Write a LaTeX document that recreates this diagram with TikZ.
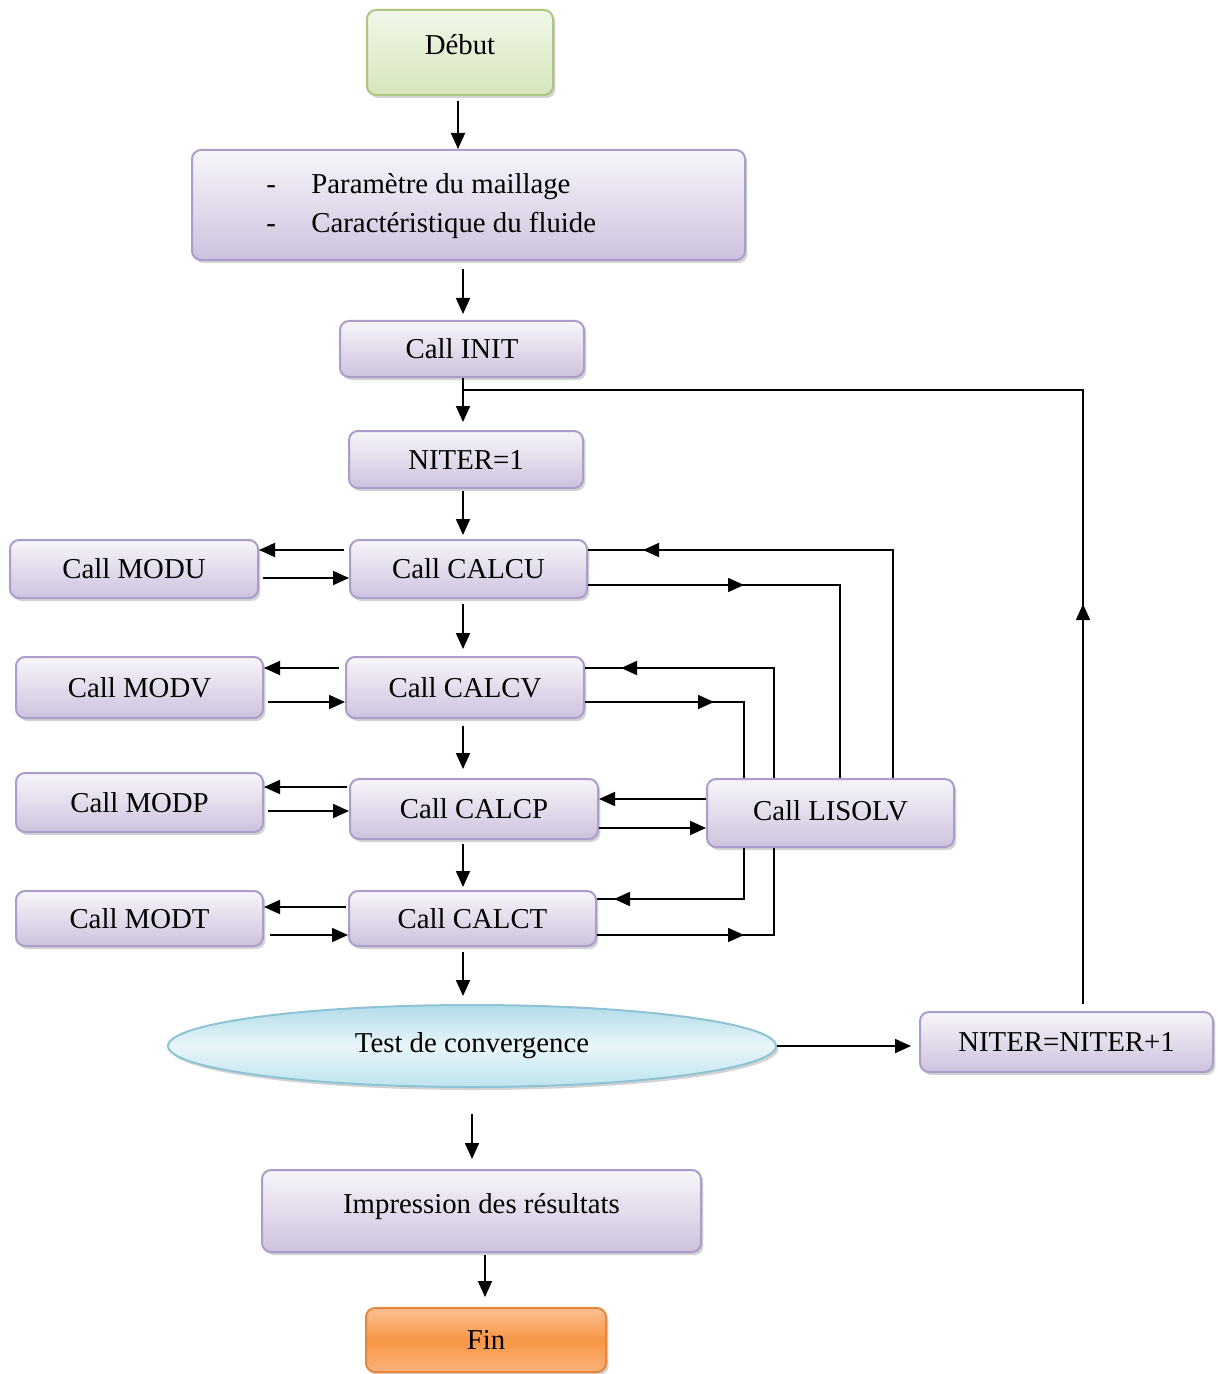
\documentclass[tikz,border=0pt]{standalone}
\usepackage{fontspec}
\setmainfont{Liberation Serif}
\usetikzlibrary{arrows.meta,shadows,decorations.markings,shapes.geometric}
\definecolor{lavDraw}{RGB}{172,156,202}
\definecolor{lavTop}{RGB}{247,245,250}
\definecolor{lavBot}{RGB}{206,194,222}
\definecolor{grnDraw}{RGB}{170,198,128}
\definecolor{grnTop}{RGB}{242,247,233}
\definecolor{grnBot}{RGB}{214,229,188}
\definecolor{bluDraw}{RGB}{140,196,212}
\definecolor{bluTop}{RGB}{178,220,232}
\definecolor{bluMid}{RGB}{232,245,249}
\definecolor{bluBot}{RGB}{190,228,238}
\definecolor{orgDraw}{RGB}{232,134,58}
\definecolor{orgTop}{RGB}{251,192,146}
\definecolor{orgMid}{RGB}{247,150,70}
\definecolor{orgBot}{RGB}{250,178,122}
\tikzset{
  x=0.5pt, y=-0.5pt,
  box/.style={draw=lavDraw, line width=1pt, rounded corners=4.5pt,
    top color=lavTop, bottom color=lavBot,
    drop shadow={shadow xshift=1.2pt, shadow yshift=-1.5pt, opacity=0.35},
    inner sep=0pt, font=\fontsize{14.4}{17}\selectfont},
  greenbox/.style={box, draw=grnDraw, top color=grnTop, bottom color=grnBot},
  orangebox/.style={box, draw=orgDraw, top color=orgTop, bottom color=orgBot, middle color=orgMid},
  ovalbox/.style={ellipse, draw=bluDraw, line width=1pt, top color=bluTop, bottom color=bluBot, middle color=bluMid,
    drop shadow={shadow xshift=1.2pt, shadow yshift=-1.5pt, opacity=0.35},
    inner sep=0pt, font=\fontsize{14.4}{17}\selectfont},
  arr/.style={-{Triangle[length=8pt,width=7pt]}, line width=0.9pt},
  conn/.style={line width=0.8pt},
  markarr/.style={postaction=decorate, decoration={markings,
    mark=at position #1 with {\arrow{Triangle[length=8pt,width=7pt]}}}},
}
\begin{document}
\begin{tikzpicture}
\useasboundingbox (0,0) rectangle (1218,1374);
\coordinate (spine) at (463,0);

% nodes
\node[greenbox, minimum width=93pt, minimum height=42.5pt] (debut) at (460,52.5) {\raisebox{8.5pt}{Début}};
\node[box, minimum width=276.5pt, minimum height=55pt] (param) at (468.5,205) {};
\node[anchor=west, inner sep=0pt, align=left, font=\fontsize{14.4}{19.5}\selectfont] (paramtxt) at (266,206)
  {\makebox[22.5pt][l]{-}Paramètre du maillage\\\makebox[22.5pt][l]{-}Caractéristique du fluide};
\node[box, minimum width=122pt, minimum height=28pt] (init) at (462,349) {Call INIT};
\node[box, minimum width=117pt, minimum height=28.5pt] (niterone) at (466,459.5) {NITER=1};

\node[box, minimum width=124pt, minimum height=29pt] (modu) at (134,569) {Call MODU};
\node[box, minimum width=118.5pt, minimum height=29pt] (calcu) at (468.5,569) {Call CALCU};
\node[box, minimum width=123.5pt, minimum height=30.5pt] (modv) at (139.5,687.5) {Call MODV};
\node[box, minimum width=119pt, minimum height=30.5pt] (calcv) at (465,687.5) {Call CALCV};
\node[box, minimum width=123.5pt, minimum height=29.5pt] (modp) at (139.5,802.5) {Call MODP};
\node[box, minimum width=124pt, minimum height=30pt] (calcp) at (474,809) {Call CALCP};
\node[box, minimum width=123.5pt, minimum height=34pt] (lisolv) at (830.5,813) {\raisebox{2pt}{Call LISOLV}};
\node[box, minimum width=123.5pt, minimum height=27.5pt] (modt) at (139.5,918.5) {Call MODT};
\node[box, minimum width=123.5pt, minimum height=27.5pt] (calct) at (472.5,918.5) {Call CALCT};

\node[ovalbox, minimum width=304pt, minimum height=41pt] (test) at (472,1046) {\raisebox{2pt}{Test de convergence}};
\node[box, minimum width=146.5pt, minimum height=30pt] (nitertwo) at (1066.5,1042) {NITER=NITER+1};
\node[box, minimum width=219.5pt, minimum height=41pt] (impr) at (481.5,1211) {\raisebox{8pt}{Impression des résultats}};
\node[orangebox, minimum width=120pt, minimum height=32pt] (fin) at (486,1340) {Fin};

% main vertical flow
\draw[arr] (debut.south -| 458,0) ++(0,-2.5pt) -- (param.north -| 458,0);
\draw[arr, shorten <=4pt, shorten >=3pt] (param.south -| spine) -- (init.north -| spine);
\draw[arr, shorten >=4pt] (init.south -| spine) -- (niterone.north -| spine);
\draw[arr, shorten <=1pt, shorten >=2pt] (niterone.south -| spine) -- (calcu.north -| spine);
\draw[arr, shorten <=2.5pt, shorten >=3.5pt] (calcu.south -| spine) -- (calcv.north -| spine);
\draw[arr, shorten <=3.5pt, shorten >=4.5pt] (calcv.south -| spine) -- (calcp.north -| spine);
\draw[arr, shorten <=2pt, shorten >=1.5pt] (calcp.south -| spine) -- (calct.north -| spine);
\draw[arr, shorten <=2.5pt, shorten >=4pt] (calct.south -| spine) -- (test.north -| spine);
\draw[arr, shorten <=13pt, shorten >=5pt] (test.south -| 472,0) -- (impr.north -| 472,0);
\draw[arr, shorten <=1pt, shorten >=5pt] (impr.south -| 485,0) -- (fin.north -| 485,0);
\draw[arr, shorten >=4pt] (test.east) -- (test.east -| nitertwo.west);

% loop back
\coordinate (loopend) at (spine |- 0,390);
\draw[conn, markarr=200pt] (nitertwo.north -| 1083,0) ++(0,3.5pt) |- (loopend);

% MOD exchanges
\draw[arr] (calcu.west |- 0,550) ++(-2.5pt,0) -- (modu.east |- 0,550);
\draw[arr] (modu.east |- 0,578) ++(2pt,0) -- (calcu.west |- 0,578);
\draw[arr] (calcv.west |- 0,668) ++(-3pt,0) -- (modv.east |- 0,668);
\draw[arr] (modv.east |- 0,702) ++(2pt,0) -- (calcv.west |- 0,702);
\draw[arr] (calcp.west |- 0,787) ++(-1pt,0) -- (modp.east |- 0,787);
\draw[arr] (modp.east |- 0,811) ++(2pt,0) -- (calcp.west |- 0,811);
\draw[arr] (calct.west |- 0,907) ++(-1pt,0) -- (modt.east |- 0,907);
\draw[arr] (modt.east |- 0,935) ++(3pt,0) -- (calct.west |- 0,935);

% LISOLV exchanges
\draw[conn, markarr=-27.5pt] (lisolv.north -| 893,0) |- (calcu.east |- 0,550);
\draw[conn, markarr=78pt] (calcu.east |- 0,585) -| (lisolv.north -| 840,0);
\draw[conn, markarr=-18pt] (lisolv.north -| 774,0) |- (calcv.east |- 0,668);
\draw[conn, markarr=64.5pt] (calcv.east |- 0,702) -| (lisolv.north -| 744,0);
\draw[arr] (lisolv.west |- 0,799) -- (calcp.east |- 0,799);
\draw[arr] (calcp.east |- 0,828) -- (lisolv.west |- 0,828);
\draw[conn, markarr=-8.5pt] (lisolv.south -| 744,0) |- (calct.east |- 0,899);
\draw[conn, markarr=73.5pt] (calct.east |- 0,935) -| (lisolv.south -| 774,0);
\end{tikzpicture}
\end{document}
